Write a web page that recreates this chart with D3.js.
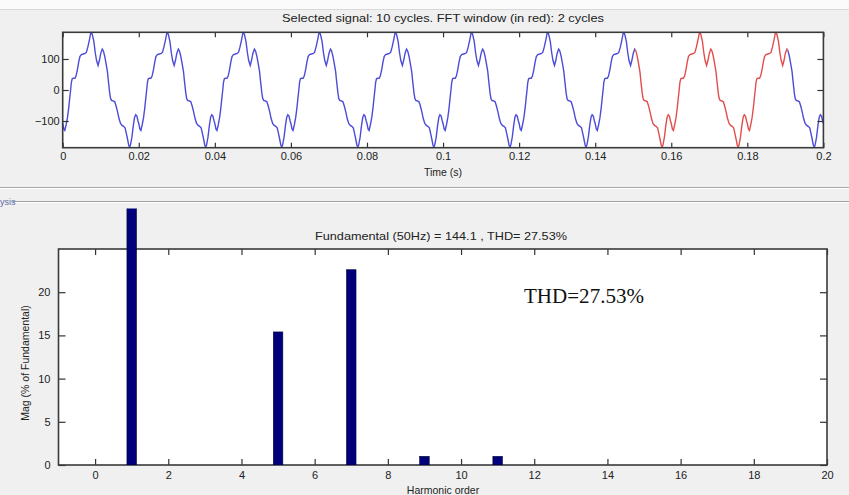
<!DOCTYPE html>
<html><head><meta charset="utf-8">
<script src="https://cdn.jsdelivr.net/npm/d3@7"></script>
<style>
body{margin:0;background:#f0f0f0;}
svg{display:block;font-family:"Liberation Sans",Arial,sans-serif;}
</style>
</head><body>
<svg id="c" width="849" height="495"></svg>
<script>
// ---- Data ----
// one 20 ms cycle of the selected signal (time within the cycle in ms, value)
const cycleTimeMs = [0.0,0.3,0.56,0.9,1.24,1.56,1.84,2.08,2.28,2.5,2.8,3.2,3.5,3.86,4.2,4.52,4.9,5.4,5.9,6.24,6.6,7.0,7.36,7.54,7.8,8.2,8.56,8.9,9.3,9.64,10.0,10.4,10.7,11.06,11.4,11.76,12.0,12.36,12.6,12.9,13.3,13.68,14.0,14.38,14.8,15.2,15.6,16.0,16.4,16.7,17.04,17.36,17.6,17.84,18.2,18.56,18.9,19.2,19.5,19.8];
const cycleValues = [-108,-126,-130,-112,-90,-60,-27,0,25,36,38,38,45,65,90,108,114,116,118,122,138,160,183,186,178,156,120,95,79,95,118,132,126,108,85,59,30,-10,-28,-34,-35,-38,-50,-68,-92,-108,-114,-117,-122,-138,-158,-178,-185,-176,-152,-115,-88,-80,-84,-100];
const nCycles = 10;
const cycleSeconds = 0.02;
const fftWindow = [0.1505, 0.1905];
const timeTicks = [0,0.02,0.04,0.06,0.08,0.1,0.12,0.14,0.16,0.18,0.2];
const signalTicks = [-100,0,100];
const signalDomain = [-186,186];

const harmonicOrders = [1,5,7,9,11];
const harmonicMags = [100,15.4,22.6,1.0,1.0];
const harmonicTicks = [0,2,4,6,8,10,12,14,16,18,20];
const magTicks = [0,5,10,15,20];

const topTitle = "Selected signal: 10 cycles. FFT window (in red): 2 cycles";
const bottomTitle = "Fundamental (50Hz) = 144.1 , THD= 27.53%";
const thdNote = "THD=27.53%";

// ---- Drawing ----
const svg = d3.select("#c");
const W = 849, H = 495;

// background panels
svg.append("rect").attr("x",0).attr("y",0).attr("width",W).attr("height",H).attr("fill","#f0f0f0");
svg.append("rect").attr("x",0).attr("y",0).attr("width",W).attr("height",9).attr("fill","#fbfbfb");
svg.append("line").attr("x1",0).attr("x2",W).attr("y1",9.5).attr("y2",9.5).attr("stroke","#d8d8d8");
svg.append("line").attr("x1",0).attr("x2",W).attr("y1",187.5).attr("y2",187.5).attr("stroke","#a8a8a8");
svg.append("line").attr("x1",0).attr("x2",W).attr("y1",188.5).attr("y2",188.5).attr("stroke","#ffffff");
svg.append("line").attr("x1",13).attr("x2",W).attr("y1",201.5).attr("y2",201.5).attr("stroke","#a0a0a0");
svg.append("line").attr("x1",13).attr("x2",W).attr("y1",202.5).attr("y2",202.5).attr("stroke","#ffffff");
svg.append("text").attr("x",0).attr("y",205).attr("font-size",9).attr("fill","#5a6aa8").text("ysis");

// ---------- top plot ----------
const T = {l:62.7, r:823.4, t:32.3, b:147.7};
const xt = d3.scaleLinear().domain([0, nCycles*cycleSeconds]).range([T.l, T.r]);
const yt = d3.scaleLinear().domain(signalDomain).range([T.b, T.t]);

svg.append("rect").attr("x",T.l).attr("y",T.t).attr("width",T.r-T.l).attr("height",T.b-T.t).attr("fill","#ffffff");

const signal = [];
for (let k=0;k<nCycles;k++){
  cycleTimeMs.forEach((ms,i)=>signal.push({t:k*cycleSeconds+ms/1000, v:cycleValues[i]}));
}
signal.push({t:nCycles*cycleSeconds, v:cycleValues[0]});

const defs = svg.append("defs");
defs.append("clipPath").attr("id","clipRed").append("rect")
  .attr("x",xt(fftWindow[0])).attr("y",T.t).attr("width",xt(fftWindow[1])-xt(fftWindow[0])).attr("height",T.b-T.t);
const cb = defs.append("clipPath").attr("id","clipBlue");
cb.append("rect").attr("x",T.l).attr("y",T.t).attr("width",xt(fftWindow[0])-T.l).attr("height",T.b-T.t);
cb.append("rect").attr("x",xt(fftWindow[1])).attr("y",T.t).attr("width",T.r-xt(fftWindow[1])).attr("height",T.b-T.t);

const line = d3.line().x(d=>xt(d.t)).y(d=>yt(d.v));
svg.append("path").datum(signal).attr("d",line).attr("fill","none").attr("stroke","#4c4cd8").attr("stroke-width",1.4).attr("clip-path","url(#clipBlue)");
svg.append("path").datum(signal).attr("d",line).attr("fill","none").attr("stroke","#e24e4e").attr("stroke-width",1.4).attr("clip-path","url(#clipRed)");

function styleAxis(g){
  g.select(".domain").remove();
  g.selectAll(".tick line").attr("stroke","#333").attr("stroke-width",1.2);
  g.selectAll(".tick text").attr("fill","#222").attr("font-size",11).attr("font-family","'Liberation Sans',Arial,sans-serif");
}
const fmtTime = d => d===0 ? "0" : d3.format("")(+d.toFixed(2));
svg.append("g").attr("transform",`translate(0,${T.b})`)
  .call(d3.axisBottom(xt).tickValues(timeTicks).tickFormat(fmtTime).tickSizeInner(-5).tickSizeOuter(0).tickPadding(5)).call(styleAxis);
svg.append("g").attr("transform",`translate(0,${T.t})`)
  .call(d3.axisTop(xt).tickValues(timeTicks).tickFormat("").tickSizeInner(-5).tickSizeOuter(0)).call(styleAxis);
svg.append("g").attr("transform",`translate(${T.l},0)`)
  .call(d3.axisLeft(yt).tickValues(signalTicks).tickSizeInner(-6).tickSizeOuter(0).tickPadding(3)).call(styleAxis);
svg.append("g").attr("transform",`translate(${T.r},0)`)
  .call(d3.axisRight(yt).tickValues(signalTicks).tickFormat("").tickSizeInner(-6).tickSizeOuter(0)).call(styleAxis);
svg.append("rect").attr("x",T.l).attr("y",T.t).attr("width",T.r-T.l).attr("height",T.b-T.t).attr("fill","none").attr("stroke","#3a3a3a").attr("stroke-width",1.6);

svg.append("text").attr("x",443).attr("y",22).attr("text-anchor","middle").attr("font-size",11)
  .attr("textLength",322).attr("lengthAdjust","spacingAndGlyphs").attr("fill","#222").text(topTitle);
svg.append("text").attr("x",(T.l+T.r)/2).attr("y",176).attr("text-anchor","middle").attr("font-size",10.5).attr("fill","#222").text("Time (s)");

// ---------- bottom plot ----------
const B = {l:58.5, r:827, t:249, b:465};
const xb = d3.scaleLinear().domain([-1,20]).range([B.l, B.r]);
const yb = d3.scaleLinear().domain([0,25]).range([B.b, B.t]);
const barW = xb(0.26)-xb(0);

svg.append("rect").attr("x",B.l).attr("y",B.t).attr("width",B.r-B.l).attr("height",B.b-B.t).attr("fill","#ffffff");

defs.append("clipPath").attr("id","clipBars").append("rect").attr("x",B.l).attr("y",208.5).attr("width",B.r-B.l).attr("height",B.b-208.5);

svg.append("text").attr("x",441).attr("y",240).attr("text-anchor","middle").attr("font-size",11)
  .attr("textLength",252).attr("lengthAdjust","spacingAndGlyphs").attr("fill","#222").text(bottomTitle);

svg.append("g").attr("transform",`translate(0,${B.b})`)
  .call(d3.axisBottom(xb).tickValues(harmonicTicks).tickSizeInner(-6).tickSizeOuter(0).tickPadding(6)).call(styleAxis);
svg.append("g").attr("transform",`translate(0,${B.t})`)
  .call(d3.axisTop(xb).tickValues(harmonicTicks).tickFormat("").tickSizeInner(-6).tickSizeOuter(0)).call(styleAxis);
svg.append("g").attr("transform",`translate(${B.l},0)`)
  .call(d3.axisLeft(yb).tickValues(magTicks).tickSizeInner(-7).tickSizeOuter(0).tickPadding(8)).call(styleAxis);
svg.append("g").attr("transform",`translate(${B.r},0)`)
  .call(d3.axisRight(yb).tickValues(magTicks).tickFormat("").tickSizeInner(-7).tickSizeOuter(0)).call(styleAxis);
svg.append("rect").attr("x",B.l).attr("y",B.t).attr("width",B.r-B.l).attr("height",B.b-B.t).attr("fill","none").attr("stroke","#3a3a3a").attr("stroke-width",1.6);

svg.append("g").attr("clip-path","url(#clipBars)")
  .selectAll("rect").data(harmonicOrders.map((h,i)=>({h, m:harmonicMags[i]}))).join("rect")
  .attr("x",d=>xb(d.h)-barW/2).attr("y",d=>yb(d.m)).attr("width",barW).attr("height",d=>yb(0)-yb(d.m))
  .attr("fill","#00007a").attr("stroke","#000033").attr("stroke-width",0.6);

svg.append("text").attr("x",524).attr("y",303).attr("font-family","'Liberation Serif','Times New Roman',serif")
  .attr("font-size",22).attr("textLength",120).attr("lengthAdjust","spacingAndGlyphs").attr("fill","#111").text(thdNote);

svg.append("text").attr("transform",`translate(29,${(B.t+B.b)/2+6}) rotate(-90)`).attr("text-anchor","middle")
  .attr("font-size",10.5).attr("fill","#222").text("Mag (% of Fundamental)");
svg.append("text").attr("x",443).attr("y",494).attr("text-anchor","middle").attr("font-size",10.5).attr("fill","#222").text("Harmonic order");
</script>
</body></html>
